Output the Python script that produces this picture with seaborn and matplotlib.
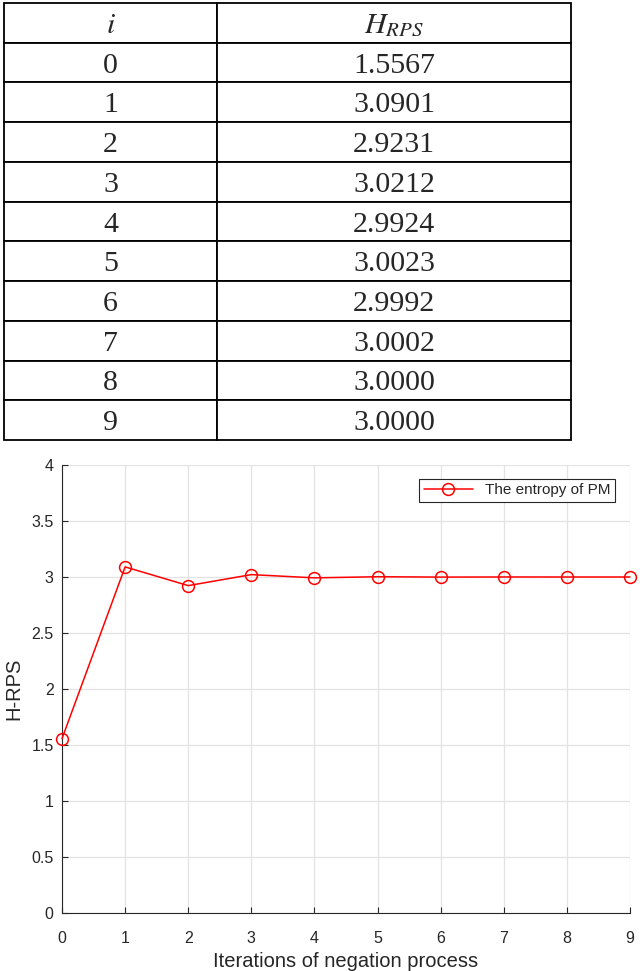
import numpy as np
import matplotlib
matplotlib.use("Agg")
import matplotlib.pyplot as plt
import seaborn as sns

# data
iterations = [0, 1, 2, 3, 4, 5, 6, 7, 8, 9]
h_rps = [1.5567, 3.0901, 2.9231, 3.0212, 2.9924, 3.0023, 2.9992, 3.0002, 3.0000, 3.0000]
col_labels = ["$i$", "$H_{RPS}$"]
series_label = "The entropy of PM"

sns.set_style("white")
plt.rcParams["mathtext.fontset"] = "stix"
plt.rcParams["font.family"] = ["Liberation Sans", "DejaVu Sans"]

fig = plt.figure(figsize=(6.4, 9.71), dpi=100)

# table on top
tax = fig.add_axes([4 / 640, 1 - 440 / 971, 567 / 640, 437 / 971])
tax.axis("off")
cell_text = [[str(i), f"{v:.4f}"] for i, v in zip(iterations, h_rps)]
tbl = tax.table(cellText=cell_text, colLabels=col_labels, cellLoc="center",
                colWidths=[213 / 567, 354 / 567], bbox=[0, 0, 1, 1])
tbl.auto_set_font_size(False)
for (r, c), cell in tbl.get_celld().items():
    cell.set_linewidth(1.3)
    cell.set_edgecolor("black")
    txt = cell.get_text()
    txt.set_fontfamily("Liberation Serif")
    txt.set_fontsize(21.5)
    txt.set_verticalalignment("center_baseline")

# line chart below
ax = fig.add_axes([62 / 640, 1 - 913 / 971, 568 / 640, 448 / 971])
sns.lineplot(x=iterations, y=h_rps, ax=ax, color="red", lw=1.1, marker="o",
             markersize=8.5, markerfacecolor="none", markeredgecolor="red",
             markeredgewidth=1.1, label=series_label, clip_on=False, zorder=5)

ax.set_xlim(0, 9)
ax.set_ylim(0, 4)
ax.set_xticks(range(0, 10))
ax.set_yticks(np.arange(0, 4.01, 0.5))
ax.set_yticklabels(["0", "0.5", "1", "1.5", "2", "2.5", "3", "3.5", "4"])
ax.grid(True, color="#e3e3e3", lw=0.9)
ax.set_axisbelow(True)
ax.spines["top"].set_visible(False)
ax.spines["right"].set_visible(False)
ax.spines["left"].set_color("#262626")
ax.spines["bottom"].set_color("#262626")
ax.tick_params(direction="in", length=4, width=0.8, labelsize=11.5, colors="#262626",
               left=True, bottom=True)
ax.tick_params(axis="x", pad=13)
ax.tick_params(axis="y", pad=6)
ax.set_xlabel("Iterations of negation process", fontsize=14.5, color="#262626", labelpad=4)
ax.set_ylabel("H-RPS", fontsize=14.5, color="#262626", labelpad=6)

leg = ax.legend(loc="upper right", bbox_to_anchor=(0.974, 0.969), borderaxespad=0,
                fontsize=11, frameon=True, fancybox=False, edgecolor="#262626",
                framealpha=1, handlelength=3.2, borderpad=0.3)
leg.get_frame().set_linewidth(0.8)

fig.savefig("out.png", dpi=100)
